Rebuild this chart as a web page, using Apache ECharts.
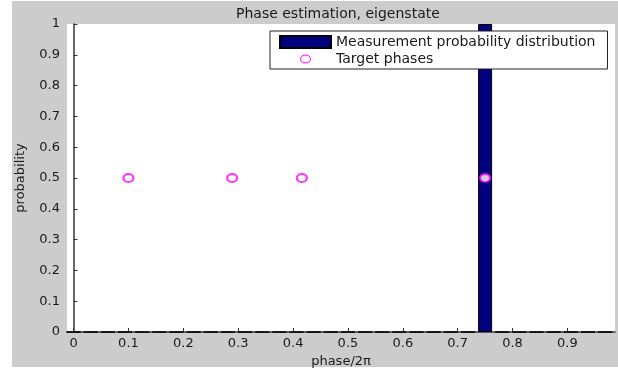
<!DOCTYPE html>
<html>
<head>
<meta charset="utf-8">
<script src="https://cdn.jsdelivr.net/npm/echarts@6/dist/echarts.min.js"></script>
<style>
html,body{margin:0;padding:0;background:#fff;}
#c{width:618px;height:369px;}
</style>
</head>
<body>
<div id="c"></div>
<script>
// Data
const binCenters = [0,1,2,3,4,5,6,7,8,9,10,11,12,13,14,15,16,17,18,19,20,21,22,23,24,25,26,27,28,29,30,31].map(k => k / 32);
const probabilities = [0,0,0,0,0,0,0,0,0,0,0,0,0,0,0,0,0,0,0,0,0,0,0,0,1,0,0,0,0,0,0,0];
const targetPhases = [0.1, 0.289, 0.416, 0.75];
const targetY = [0.5, 0.5, 0.5, 0.5];
const xTicks = [0,0.1,0.2,0.3,0.4,0.5,0.6,0.7,0.8,0.9];

const chart = echarts.init(document.getElementById('c'), null, {renderer:'canvas'});
const font = 'DejaVu Sans, sans-serif';
const txt = '#1a1a1a';

chart.setOption({
  animation: false,
  backgroundColor: '#fff',
  graphic: [{
    type: 'rect', z: -10, silent: true,
    shape: {x: 12, y: 1, width: 606, height: 366},
    style: {fill: '#cccccc'}
  }],
  title: {
    text: 'Phase estimation, eigenstate',
    left: 231, top: 2,
    textStyle: {fontFamily: font, fontSize: 14, fontWeight: 'normal', color: txt}
  },
  legend: {
    orient: 'vertical',
    left: 270, top: 31,
    padding: [4, 12, 3, 9],
    itemGap: 3,
    itemWidth: 51, itemHeight: 12,
    backgroundColor: '#fff',
    borderColor: '#222', borderWidth: 1,
    textStyle: {fontFamily: font, fontSize: 14, color: txt, lineHeight: 12},
    data: [
      {name: 'Measurement probability distribution', icon: 'rect'},
      {name: 'Target phases',
       icon: 'path://M0,0 M51,12 M20.5,6 A5,3.8 0 1 1 30.5,6 A5,3.8 0 1 1 20.5,6 Z',
       itemStyle: {color: 'transparent', borderColor: '#ff00ff', borderWidth: 1.2}}
    ]
  },
  grid: {
    left: 67, right: 3, top: 24, bottom: 37,
    outerBoundsMode: 'none',
    show: true, backgroundColor: '#fff', borderWidth: 0
  },
  xAxis: {
    type: 'value',
    min: -0.012, max: 0.9867,
    name: 'phase/2π', nameLocation: 'middle', nameGap: 19,
    nameTextStyle: {fontFamily: font, fontSize: 13, color: txt},
    axisLine: {show: true, lineStyle: {color: '#333', width: 1.5}},
    axisTick: {show: true, inside: true, length: 4, customValues: xTicks, lineStyle: {color: '#333'}},
    axisLabel: {customValues: xTicks, fontFamily: font, fontSize: 13, color: txt, margin: 5,
      formatter: v => String(Math.round(v*10)/10)},
    splitLine: {show: false}
  },
  yAxis: {
    type: 'value',
    min: 0, max: 1, interval: 0.1,
    name: 'probability', nameLocation: 'middle', nameGap: 40,
    nameTextStyle: {fontFamily: font, fontSize: 13, color: txt},
    axisLine: {show: true, lineStyle: {color: '#333', width: 1.5}},
    axisTick: {show: true, inside: true, length: 4, lineStyle: {color: '#333'}},
    axisLabel: {fontFamily: font, fontSize: 13, color: txt, margin: 7,
      formatter: v => String(Math.round(v*10)/10)},
    splitLine: {show: false}
  },
  series: [
    {
      name: 'Measurement probability distribution',
      type: 'bar',
      barWidth: 14,
      data: binCenters.map((x, i) => [x, probabilities[i]]),
      itemStyle: {color: '#000080', borderColor: '#000', borderWidth: 1},
      z: 2
    },
    {
      name: 'Target phases',
      type: 'scatter',
      symbol: 'emptyCircle',
      symbolSize: [10, 8],
      data: targetPhases.map((x, i) => [x, targetY[i]]),
      itemStyle: {color: '#ff00ff', borderColor: '#ff00ff', borderWidth: 1.2},
      z: 3
    }
  ]
});
</script>
</body>
</html>
